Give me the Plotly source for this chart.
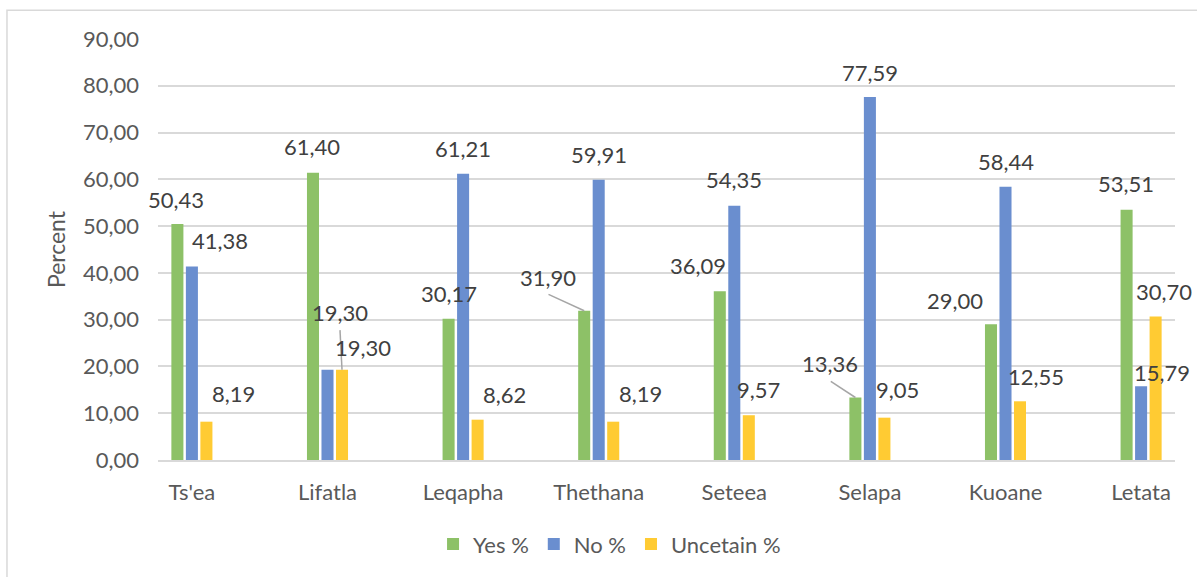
import plotly.graph_objects as go

categories = ["Ts'ea", "Lifatla", "Leqapha", "Thethana", "Seteea", "Selapa", "Kuoane", "Letata"]
yes_pct = [50.43, 61.40, 30.17, 31.90, 36.09, 13.36, 29.00, 53.51]
no_pct = [41.38, 19.30, 61.21, 59.91, 54.35, 77.59, 58.44, 15.79]
uncertain_pct = [8.19, 19.30, 8.62, 8.19, 9.57, 9.05, 12.55, 30.70]
y_ticks = [0, 10, 20, 30, 40, 50, 60, 70, 80, 90]

series_names = ["Yes %", "No %", "Uncetain %"]
series_values = [yes_pct, no_pct, uncertain_pct]
series_colors = ["#8DC167", "#6A8ECF", "#FFCB33"]
bar_shift_px = [-14.5, 0.0, 14.5]

# label offsets (dx, dy) in px from top-centre of each bar (style, not data)
label_offsets = [
    [(-1, -25), (-1, -26), (0, -25), (-36, -33), (-22, -26), (-25, -34), (-36, -24), (-1, -26)],
    [(28, -26), (35, -22), (0, -25), (0, -25), (0, -26), (0, -25), (0, -25), (21, -14)],
    [(27, -28), (-2, -57), (27, -25), (27, -28), (10, -26), (13, -28), (16, -25), (8, -25)],
]
# leader lines: (series index, category index, start dx, start up)
leaders = [(0, 3, -35.7, 16.4), (0, 5, -24.6, 16.2), (2, 1, -2.0, 39.6)]

FONT = "Lato, Calibri, 'Open Sans', sans-serif"
FS = 22
fig = go.Figure()
for name, vals, col in zip(series_names, series_values, series_colors):
    fig.add_trace(go.Bar(x=categories, y=vals, name=name, marker=dict(color=col, line=dict(width=0))))

annotations = []
for s, vals in enumerate(series_values):
    for i, v in enumerate(vals):
        dx, dy = label_offsets[s][i]
        annotations.append(dict(
            x=categories[i], y=v, xref="x", yref="y",
            text=f"{v:.2f}".replace(".", ","), showarrow=False,
            xanchor="center", yanchor="middle",
            xshift=bar_shift_px[s] + dx, yshift=-dy,
            font=dict(family=FONT, size=FS, color="#404040"),
        ))

shapes = []
for s, i, sx, sy in leaders:
    shapes.append(dict(
        type="line", xref="x", yref="y", xsizemode="pixel", ysizemode="pixel",
        xanchor=categories[i], yanchor=series_values[s][i],
        x0=bar_shift_px[s] + sx, y0=sy, x1=bar_shift_px[s], y1=0,
        line=dict(color="#A6A6A6", width=1.5),
    ))
# chart border
shapes.append(dict(type="rect", xref="paper", yref="paper",
                   x0=-0.1485, x1=1.03, y0=-0.30, y1=1.0684,
                   line=dict(color="#D9D9D9", width=1.5), fillcolor="rgba(0,0,0,0)", layer="below"))

fig.update_layout(
    width=1197, height=577,
    margin=dict(l=158, r=22, t=39, b=115),
    paper_bgcolor="white", plot_bgcolor="white",
    separators=",.",
    barmode="group", bargap=0.679, bargroupgap=0.17,
    font=dict(family=FONT, size=FS, color="#595959"),
    showlegend=True,
    legend=dict(orientation="h", x=0.444, xanchor="center", y=-0.2, yanchor="middle",
                font=dict(family=FONT, size=FS, color="#595959"), traceorder="normal"),
    annotations=annotations,
    shapes=shapes,
)
fig.update_xaxes(
    range=[-0.25, len(categories) - 0.75], showgrid=False, showline=True,
    linecolor="#D9D9D9", linewidth=1.5, ticks="", zeroline=False,
    ticklabelstandoff=12,
    tickfont=dict(family=FONT, size=FS, color="#595959"),
)
fig.update_yaxes(
    range=[0, 90], tickvals=y_ticks, tickformat=".2f", showgrid=True,
    gridcolor="#D9D9D9", gridwidth=1.5, zeroline=False, showline=False, ticks="",
    ticklabelstandoff=18,
    tickfont=dict(family=FONT, size=FS, color="#595959"),
    title=dict(text="Percent", standoff=10, font=dict(family=FONT, size=23, color="#595959")),
)

fig.write_html("out.html")
